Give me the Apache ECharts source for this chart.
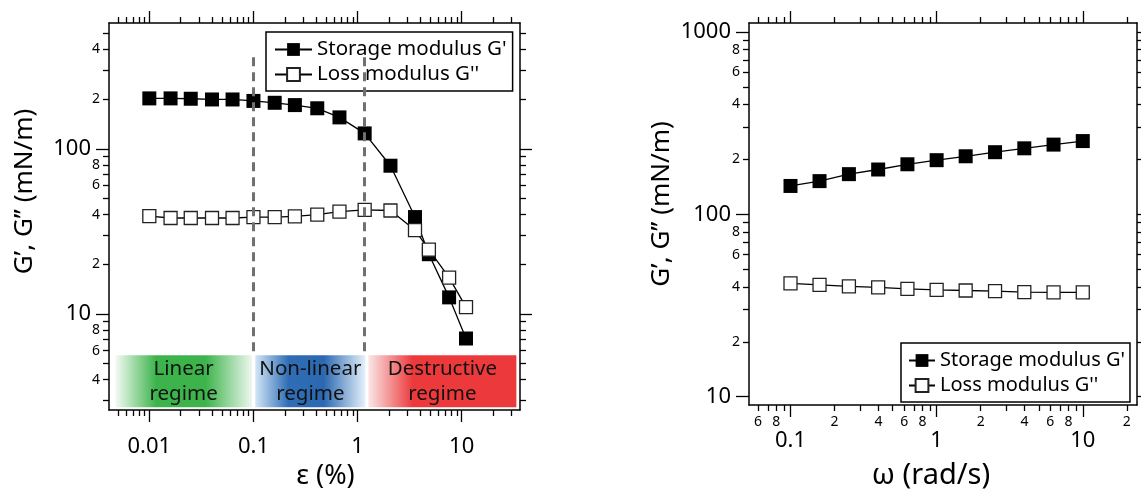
<!DOCTYPE html>
<html><head><meta charset="utf-8">
<script src="https://cdn.jsdelivr.net/npm/echarts@6/dist/echarts.min.js"></script>
<style>html,body{margin:0;padding:0;background:#fff}#c{width:1141px;height:495px}</style>
</head><body><div id="c"></div>
<script>
// ---------- Left chart: strain amplitude sweep ----------
const strainX = [0.01, 0.016, 0.025, 0.04, 0.063, 0.1, 0.16, 0.25, 0.41, 0.67, 1.17, 2.07, 3.56, 4.84, 7.57, 11.0];
const strainStorage = [202, 202, 201, 199, 199, 195, 190, 184, 176, 155, 124, 79, 38.6, 23, 12.6, 7.1];
const strainLoss = [39.1, 38.1, 38.1, 38.1, 38.1, 38.6, 38.6, 39.0, 39.9, 41.7, 42.7, 42.3, 32.2, 24.5, 16.6, 11.0];

// ---------- Right chart: frequency sweep ----------
const freqX = [0.1, 0.158, 0.251, 0.398, 0.631, 1, 1.58, 2.51, 3.98, 6.31, 10];
const freqStorage = [143, 152, 166, 176, 188, 198, 208, 219, 230, 241, 252];
const freqLoss = [41.8, 41.0, 40.2, 39.7, 39.0, 38.5, 38.2, 37.9, 37.4, 37.3, 37.3];

// ---------- Regime annotations (left chart) ----------
const regimeNames = ['Linear\nregime', 'Non-linear\nregime', 'Destructive\nregime'];
const regimeXFrom = [0.0047, 0.104, 1.27];
const regimeXTo = [0.097, 1.19, 33.5];
const regimeYRange = [2.72, 5.62];
const dividerX = [0.1, 1.15];
const dividerYRange = [5.62, 359];

// ---------- Series names ----------
const seriesNames = ["Storage modulus G'", "Loss modulus G''"];

// ---------- Axis ranges ----------
const leftXRange = [0.0041, 36.3];
const leftYRange = [2.62, 578];
const rightXRange = [0.052, 23.5];
const rightYRange = [9.0, 1119];

// ---------- Tick values / labels ----------
const leftXMajor = [0.01, 0.1, 1, 10];
const leftXMinor = [0.005, 0.006, 0.007, 0.008, 0.009, 0.02, 0.03, 0.04, 0.05, 0.06, 0.07, 0.08, 0.09,
  0.2, 0.3, 0.4, 0.5, 0.6, 0.7, 0.8, 0.9, 2, 3, 4, 5, 6, 7, 8, 9, 20, 30];
const leftYMajor = [10, 100];
const leftYMinor = [3, 4, 5, 6, 7, 8, 9, 20, 30, 40, 50, 60, 70, 80, 90, 200, 300, 400, 500];
const leftYMinorLabels = [4, 6, 8, 20, 40, 60, 80, 200, 400];

const rightXMajor = [0.1, 1, 10];
const rightXMinor = [0.06, 0.07, 0.08, 0.09, 0.2, 0.3, 0.4, 0.5, 0.6, 0.7, 0.8, 0.9,
  2, 3, 4, 5, 6, 7, 8, 9, 20];
const rightXMinorLabels = [0.06, 0.08, 0.2, 0.4, 0.6, 0.8, 2, 4, 6, 8, 20];
const rightYMajor = [10, 100, 1000];
const rightYMinor = [20, 30, 40, 50, 60, 70, 80, 90, 200, 300, 400, 500, 600, 700, 800, 900];
const rightYMinorLabels = [20, 40, 60, 80, 200, 400, 600, 800];

const FONT = '"Noto Sans", "Open Sans", sans-serif';

function mantissa(v) {
  const e = Math.floor(Math.log10(v) + 1e-9);
  return String(Math.round(v / Math.pow(10, e)));
}
function majorFmt(v) {
  return String(+Number(v).toPrecision(6));
}

function logAxis(o) {
  const ax = {
    type: 'log', logBase: 10, gridIndex: o.grid, position: o.pos,
    min: o.range[0], max: o.range[1],
    silent: true,
    splitLine: { show: false },
    minorTick: { show: false },
    minorSplitLine: { show: false },
    axisLine: { show: !!o.line, onZero: false, lineStyle: { color: '#000', width: 1.5 } },
    axisTick: { show: true, inside: false, customValues: o.ticks, length: o.len,
      lineStyle: { color: '#000', width: 1.3 } },
    axisLabel: o.labels ? {
      show: true, customValues: o.labels, margin: o.margin, formatter: o.fmt,
      color: '#000', fontSize: o.fs, fontFamily: FONT, hideOverlap: false
    } : { show: false }
  };
  if (o.name) {
    ax.name = o.name;
    ax.nameLocation = 'middle';
    ax.nameGap = o.nameGap;
    if (o.nameRotate !== undefined) ax.nameRotate = o.nameRotate;
    ax.nameTextStyle = { color: '#000', fontSize: o.nameFs, fontFamily: FONT, padding: o.namePad || 0 };
  }
  return ax;
}

const xAxes = [
  // left grid
  logAxis({ grid: 0, pos: 'bottom', range: leftXRange, line: true, ticks: leftXMajor, len: 12,
    labels: leftXMajor, fmt: majorFmt, fs: 22, margin: 26,
    name: 'ε (%)', nameGap: 53, nameFs: 27, namePad: [0, 0, 0, 22] }),
  logAxis({ grid: 0, pos: 'bottom', range: leftXRange, ticks: leftXMinor, len: 6 }),
  logAxis({ grid: 0, pos: 'top', range: leftXRange, line: true, ticks: leftXMajor, len: 12 }),
  logAxis({ grid: 0, pos: 'top', range: leftXRange, ticks: leftXMinor, len: 6 }),
  // right grid
  logAxis({ grid: 1, pos: 'bottom', range: rightXRange, line: true, ticks: rightXMajor, len: 12,
    labels: rightXMajor, fmt: majorFmt, fs: 22, margin: 25,
    name: 'ω (rad/s)', nameGap: 56, nameFs: 29, namePad: [0, 24, 0, 0] }),
  logAxis({ grid: 1, pos: 'bottom', range: rightXRange, ticks: rightXMinor, len: 6,
    labels: rightXMinorLabels, fmt: mantissa, fs: 14, margin: 10 }),
  logAxis({ grid: 1, pos: 'top', range: rightXRange, line: true, ticks: rightXMajor, len: 12 }),
  logAxis({ grid: 1, pos: 'top', range: rightXRange, ticks: rightXMinor, len: 6 })
];

const yAxes = [
  logAxis({ grid: 0, pos: 'left', range: leftYRange, line: true, ticks: leftYMajor, len: 13,
    labels: leftYMajor, fmt: majorFmt, fs: 22, margin: 18,
    name: 'G’, G’’ (mN/m)', nameGap: 71, nameRotate: 90, nameFs: 26, namePad: [0, 0, 0, 50] }),
  logAxis({ grid: 0, pos: 'left', range: leftYRange, ticks: leftYMinor, len: 6,
    labels: leftYMinorLabels, fmt: mantissa, fs: 14, margin: 9 }),
  logAxis({ grid: 0, pos: 'right', range: leftYRange, line: true, ticks: leftYMajor, len: 12 }),
  logAxis({ grid: 0, pos: 'right', range: leftYRange, ticks: leftYMinor, len: 6 }),
  logAxis({ grid: 1, pos: 'left', range: rightYRange, line: true, ticks: rightYMajor, len: 13,
    labels: rightYMajor, fmt: majorFmt, fs: 22, margin: 18,
    name: 'G’, G’’ (mN/m)', nameGap: 74, nameRotate: 90, nameFs: 26, namePad: [0, 0, 0, 20] }),
  logAxis({ grid: 1, pos: 'left', range: rightYRange, ticks: rightYMinor, len: 6,
    labels: rightYMinorLabels, fmt: mantissa, fs: 14, margin: 9 }),
  logAxis({ grid: 1, pos: 'right', range: rightYRange, line: true, ticks: rightYMajor, len: 12 }),
  logAxis({ grid: 1, pos: 'right', range: rightYRange, ticks: rightYMinor, len: 6 })
];

function grad(stops) {
  return { type: 'linear', x: 0, y: 0, x2: 1, y2: 0,
    colorStops: stops.map(s => ({ offset: s[0], color: s[1] })) };
}
const regimeFills = [
  grad([[0, '#f5fbf5'], [0.3, '#3cb44b'], [0.66, '#3cb44b'], [1, '#eef7ef']]),
  grad([[0, '#d3e6f6'], [0.3, '#2f6eb6'], [0.62, '#2b68b1'], [1, '#e6f1fb']]),
  grad([[0, '#fbe6e6'], [0.3, '#ec3a3c'], [1, '#ec3a3c']])
];

const markAreaData = regimeNames.map((n, i) => [
  { name: n, xAxis: regimeXFrom[i], yAxis: regimeYRange[0], itemStyle: { color: regimeFills[i] } },
  { xAxis: regimeXTo[i], yAxis: regimeYRange[1] }
]);
const markLineData = dividerX.map(x => [
  { coord: [x, dividerYRange[1]] }, { coord: [x, dividerYRange[0]] }
]);

function pairs(xs, ys) { return xs.map((x, i) => [x, ys[i]]); }

const storageStyle = (size) => ({
  type: 'line', symbol: 'rect', symbolSize: size,
  itemStyle: { color: '#000', borderColor: '#000', borderWidth: 0 },
  lineStyle: { color: '#000', width: 1.3 }, z: 3, silent: true, animation: false
});
const lossStyle = (size) => ({
  type: 'line', symbol: 'rect', symbolSize: size,
  itemStyle: { color: '#fff', borderColor: '#222', borderWidth: 1.3 },
  lineStyle: { color: '#000', width: 1.3 }, z: 4, silent: true, animation: false
});

const series = [
  Object.assign(lossStyle(13), {
    name: seriesNames[1], xAxisIndex: 0, yAxisIndex: 0, data: pairs(strainX, strainLoss)
  }),
  Object.assign(storageStyle(14), {
    name: seriesNames[0], xAxisIndex: 0, yAxisIndex: 0, data: pairs(strainX, strainStorage),
    markArea: {
      silent: true,
      label: { show: true, position: 'inside', formatter: '{b}', color: '#111',
        fontSize: 20.5, lineHeight: 25, fontFamily: FONT },
      data: markAreaData
    },
    markLine: {
      silent: true, symbol: ['none', 'none'],
      label: { show: false },
      lineStyle: { color: '#707070', width: 3, type: [9, 6] },
      data: markLineData
    }
  }),
  Object.assign(storageStyle(14), {
    name: seriesNames[0], xAxisIndex: 4, yAxisIndex: 4, data: pairs(freqX, freqStorage)
  }),
  Object.assign(lossStyle(13), {
    name: seriesNames[1], xAxisIndex: 4, yAxisIndex: 4, data: pairs(freqX, freqLoss)
  })
];

const legendBase = {
  orient: 'vertical', selectedMode: false, data: seriesNames,
  borderColor: '#000', borderWidth: 1.5, borderRadius: 0,
  itemHeight: 16, itemGap: 4
};

const option = {
  animation: false,
  backgroundColor: '#fff',
  grid: [
    { left: 109, top: 23, width: 411, height: 396 },
    { left: 749, top: 23, width: 388, height: 386 }
  ],
  xAxis: xAxes,
  yAxis: yAxes,
  legend: [
    Object.assign({}, legendBase, { left: 266, top: 32, itemWidth: 37, padding: [7, 6, 6, 8],
      textStyle: { color: '#000', fontFamily: FONT, fontSize: 20.5, lineHeight: 21 } }),
    Object.assign({}, legendBase, { left: 901, top: 343, itemWidth: 26, padding: [7, 5, 6, 7],
      textStyle: { color: '#000', fontFamily: FONT, fontSize: 20, lineHeight: 21 } })
  ],
  series: series
};

const chart = echarts.init(document.getElementById('c'), null, { renderer: 'canvas' });
chart.setOption(option);
</script>
</body></html>
